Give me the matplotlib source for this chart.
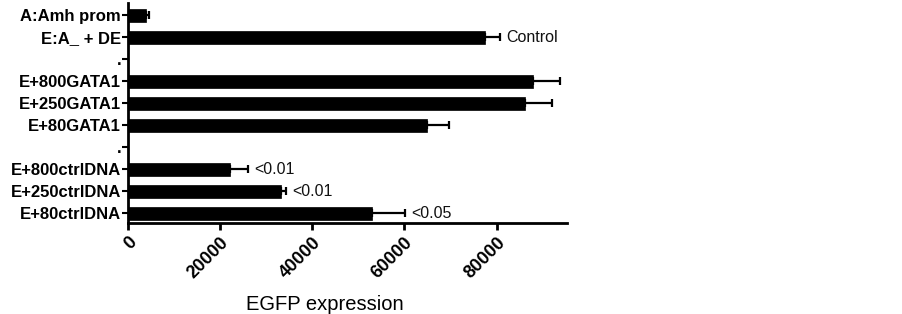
import matplotlib
matplotlib.use("Agg")
import matplotlib.pyplot as plt
import numpy as np

categories = ["A:Amh prom", "E:A_ + DE", ".", "E+800GATA1", "E+250GATA1",
              "E+80GATA1", ".", "E+800ctrlDNA", "E+250ctrlDNA", "E+80ctrlDNA"]
values = [3900, 77400, np.nan, 87900, 86200, 64800, np.nan, 22200, 33200, 53000]
errors = [700, 3400, np.nan, 5900, 5900, 4800, np.nan, 3900, 1200, 7200]
annotations = ["", "Control", "", "", "", "", "", "<0.01", "<0.01", "<0.05"]
xticks = [0, 20000, 40000, 60000, 80000]
xlabel = "EGFP expression"

plt.rcParams['font.family'] = ['Liberation Sans', 'DejaVu Sans']

fig = plt.figure(figsize=(9.03, 3.14), dpi=100)
ax = fig.add_axes([128/903, 1-223/314, (567-128)/903, (223-3)/314])

y = np.arange(len(categories))
vals = np.array(values, dtype=float)
errs = np.array(errors, dtype=float)
mask = ~np.isnan(vals)
ax.barh(y[mask], vals[mask], height=0.6, color='black', edgecolor='black', linewidth=0.5, zorder=2)
ax.errorbar(vals[mask], y[mask], xerr=[np.zeros(mask.sum()), errs[mask]], fmt='none',
            ecolor='black', elinewidth=1.6, capsize=3.2, capthick=1.6, zorder=1)

for yi, v, e, t in zip(y, vals, errs, annotations):
    if t:
        ax.annotate(t, xy=(v + e, yi), xytext=(4, 0), textcoords='offset points',
                    ha='left', va='center', fontsize=11.5, color='#111111')

ax.set_ylim(9.45, -0.55)
ax.set_xlim(0, 95300)
ax.set_yticks(y)
ax.set_yticklabels(categories, fontsize=12, fontweight='bold')
ax.set_xticks(xticks)
ax.set_xticklabels([str(v) for v in xticks], fontsize=13, fontweight='bold',
                   rotation=45, ha='right', va='top', rotation_mode='anchor')
ax.set_xlabel(xlabel, fontsize=14.5)
ax.xaxis.set_label_coords((325-128)/(567-128), -0.325)

for s in ['top', 'right']:
    ax.spines[s].set_visible(False)
for s in ['left', 'bottom']:
    ax.spines[s].set_linewidth(2)
ax.tick_params(axis='y', length=4, width=1.5, pad=1)
ax.tick_params(axis='x', length=5, width=2, pad=3)

fig.savefig("out.png", dpi=100)
